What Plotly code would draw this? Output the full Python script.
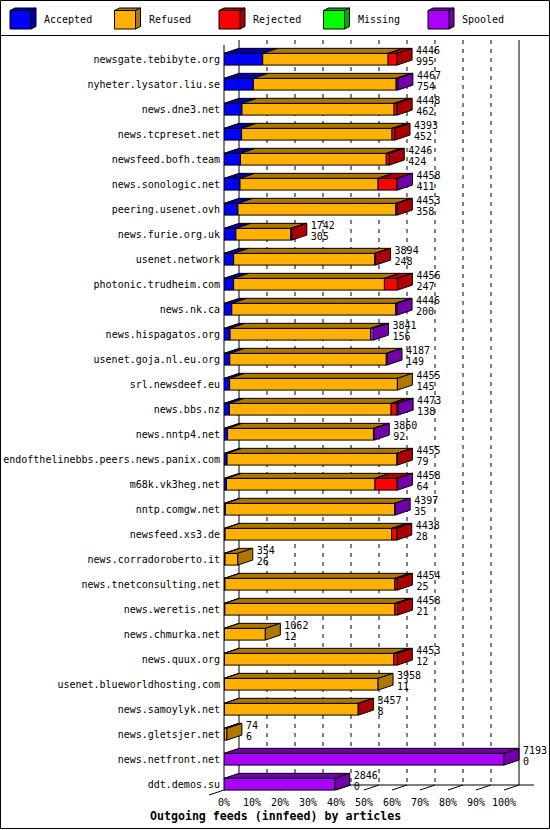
import plotly.graph_objects as go

# ---------------- data ----------------
hosts = [
    "newsgate.tebibyte.org", "nyheter.lysator.liu.se", "news.dne3.net",
    "news.tcpreset.net", "newsfeed.bofh.team", "news.sonologic.net",
    "peering.usenet.ovh", "news.furie.org.uk", "usenet.network",
    "photonic.trudheim.com", "news.nk.ca", "news.hispagatos.org",
    "usenet.goja.nl.eu.org", "srl.newsdeef.eu", "news.bbs.nz",
    "news.nntp4.net", "endofthelinebbs.peers.news.panix.com", "m68k.vk3heg.net",
    "nntp.comgw.net", "newsfeed.xs3.de", "news.corradoroberto.it",
    "news.tnetconsulting.net", "news.weretis.net", "news.chmurka.net",
    "news.quux.org", "usenet.blueworldhosting.com", "news.samoylyk.net",
    "news.gletsjer.net", "news.netfront.net", "ddt.demos.su",
]
total = [4446, 4467, 4448, 4393, 4246, 4458, 4453, 1742, 3894, 4456,
         4446, 3841, 4187, 4455, 4473, 3860, 4455, 4458, 4397, 4438,
         354, 4454, 4458, 1062, 4453, 3958, 3457, 74, 7193, 2846]
accepted = [995, 754, 462, 452, 424, 411, 358, 305, 248, 247,
            200, 156, 149, 145, 138, 92, 79, 64, 35, 28,
            26, 25, 21, 12, 12, 11, 8, 6, 0, 0]
refused = [3221, 3668, 3909, 3864, 3745, 3547, 4055, 1412, 3626, 3874,
           4206, 3608, 4021, 4310, 4155, 3748, 4366, 3816, 4352, 4280,
           328, 4364, 4367, 1050, 4351, 3947, 3439, 68, 0, 0]
rejected = [230, 0, 77, 77, 77, 490, 40, 25, 20, 335,
            0, 0, 0, 0, 146, 0, 10, 568, 0, 130,
            0, 65, 70, 0, 90, 0, 10, 0, 0, 0]
missing = [0, 0, 0, 0, 0, 0, 0, 0, 0, 0,
           0, 0, 0, 0, 0, 0, 0, 0, 0, 0,
           0, 0, 0, 0, 0, 0, 0, 0, 0, 0]
spooled = [0, 45, 0, 0, 0, 10, 0, 0, 0, 0,
           40, 77, 17, 0, 34, 20, 0, 10, 10, 0,
           0, 0, 0, 0, 0, 0, 0, 0, 7193, 2846]

series_names = ["Accepted", "Refused", "Rejected", "Missing", "Spooled"]
series_values = [accepted, refused, rejected, missing, spooled]
x_ticks = [0, 10, 20, 30, 40, 50, 60, 70, 80, 90, 100]
x_ticktext = ["0%", "10%", "20%", "30%", "40%", "50%", "60%", "70%", "80%", "90%", "100%"]
title_text = "Outgoing feeds (innfeed) by articles"

# ---------------- style ----------------
front_colors = ["#0000FF", "#FFB000", "#FF0000", "#00FF00", "#AA00FF"]
dark_colors = ["#0000AA", "#AD7700", "#AA0000", "#00AA00", "#7100AA"]
FONT = "DejaVu Sans Mono"

W, HF = 550, 830
PLOT_L, PLOT_R, PLOT_T, PLOT_B = 224.0, 548.0, 35.0, 795.0
PX_PER_PCT = 2.8
ROW0_PX, ROW_PX = 59.2, 25.0
DX = 15.0 / PX_PER_PCT       # depth offset in % units
DY = 5.0 / ROW_PX            # depth offset in row units
BH = 0.47                    # bar thickness (rows)
TXT_GAP = 4.0 / PX_PER_PCT   # gap between bar and value labels
Y_BACK_TOP = (40.0 - ROW0_PX) / ROW_PX
Y_BACK_FLOOR = (785.0 - ROW0_PX) / ROW_PX


def pxx(v):
    return (PLOT_L + v * PX_PER_PCT) / W


def pxy(r):
    return 1 - (ROW0_PX + r * ROW_PX) / HF


def ppx(x):
    return x / W


def ppy(y):
    return 1 - y / HF


n = len(hosts)
vmax = max(total)
rows = list(range(n))
pct = [[v / vmax * 100 for v in s] for s in series_values]

fig = go.Figure()

# front faces (stacked with explicit bases)
starts = [[0.0] * n for _ in series_values]
cum = [0.0] * n
for k, s in enumerate(pct):
    for i in range(n):
        starts[k][i] = cum[i]
        cum[i] += s[i]
for k, s in enumerate(pct):
    fig.add_trace(go.Bar(
        orientation="h", y=rows,
        x=[v if v > 0 else None for v in s], base=starts[k],
        width=BH, name=series_names[k],
        marker=dict(color=front_colors[k], line=dict(color="black", width=1)),
        showlegend=False, hoverinfo="skip",
    ))

# top faces
for k, s in enumerate(pct):
    xs, ys = [], []
    for i in range(n):
        if s[i] <= 0:
            continue
        x0, x1 = starts[k][i], starts[k][i] + s[i]
        yt = i - BH / 2
        xs += [x0, x1, x1 + DX, x0 + DX, x0, None]
        ys += [yt, yt, yt - DY, yt - DY, yt, None]
    if xs:
        fig.add_trace(go.Scatter(x=xs, y=ys, mode="lines", fill="toself",
                                 fillcolor=dark_colors[k],
                                 line=dict(color="black", width=1),
                                 showlegend=False, hoverinfo="skip"))

# side faces (last non-zero segment)
for k in range(len(pct)):
    xs, ys = [], []
    for i in range(n):
        last = max(j for j in range(len(pct)) if pct[j][i] > 0)
        if last != k:
            continue
        xe = cum[i]
        yt, yb = i - BH / 2, i + BH / 2
        xs += [xe, xe + DX, xe + DX, xe, xe, None]
        ys += [yt, yt - DY, yb - DY, yb, yt, None]
    if xs:
        fig.add_trace(go.Scatter(x=xs, y=ys, mode="lines", fill="toself",
                                 fillcolor=dark_colors[k],
                                 line=dict(color="black", width=1),
                                 showlegend=False, hoverinfo="skip"))

# value labels
fig.add_trace(go.Scatter(
    x=[c + DX + TXT_GAP for c in cum], y=[i - 0.30 for i in rows], mode="text",
    text=[str(t) for t in total], textposition="middle right",
    textfont=dict(family=FONT, size=10, color="black"),
    cliponaxis=False, showlegend=False, hoverinfo="skip"))
fig.add_trace(go.Scatter(
    x=[c + DX + TXT_GAP for c in cum], y=[i + 0.15 for i in rows], mode="text",
    text=[str(a) for a in accepted], textposition="middle right",
    textfont=dict(family=FONT, size=10, color="black"),
    cliponaxis=False, showlegend=False, hoverinfo="skip"))

shapes = []
line_blk = dict(color="black", width=1)
# back grid lines
for t in x_ticks:
    solid = t in (0, 100)
    shapes.append(dict(type="line", xref="paper", yref="paper", layer="below",
                       x0=pxx(t + DX), x1=pxx(t + DX), y0=pxy(Y_BACK_TOP), y1=pxy(Y_BACK_FLOOR),
                       line=dict(color="black", width=1, dash="solid" if solid else "4px,5px")))
# floor back line
shapes.append(dict(type="line", xref="paper", yref="paper", layer="below",
                   x0=pxx(DX), x1=pxx(100 + 2 * DX), y0=pxy(Y_BACK_FLOOR), y1=pxy(Y_BACK_FLOOR),
                   line=line_blk))
# tick marks (depth diagonals)
for t in x_ticks:
    shapes.append(dict(type="line", xref="paper", yref="paper", layer="below",
                       x0=pxx(t), x1=pxx(t + DX), y0=pxy(Y_BACK_FLOOR + DY), y1=pxy(Y_BACK_FLOOR),
                       line=line_blk))
shapes.append(dict(type="line", xref="paper", yref="paper", layer="below",
                   x0=pxx(-DX), x1=pxx(0), y0=pxy(Y_BACK_FLOOR + 2 * DY), y1=pxy(Y_BACK_FLOOR + DY),
                   line=line_blk))
# front left axis
shapes.append(dict(type="line", xref="paper", yref="paper", layer="above",
                   x0=pxx(0), x1=pxx(0), y0=pxy(Y_BACK_TOP + DY), y1=pxy(Y_BACK_FLOOR + DY),
                   line=line_blk))
# legend separator and outer frame
shapes.append(dict(type="line", xref="paper", yref="paper", x0=0, x1=1, y0=ppy(35.5), y1=ppy(35.5),
                   line=line_blk))
shapes.append(dict(type="rect", xref="paper", yref="paper", x0=ppx(0.5), x1=ppx(549.5),
                   y0=ppy(0.5), y1=ppy(828.5), line=line_blk, fillcolor="rgba(0,0,0,0)"))

# legend cubes
annotations = []
for j, nm in enumerate(series_names):
    cx = 10 + 104.5 * j
    fx0, fx1, fy0, fy1 = cx, cx + 21, 10.5, 29
    ddx, ddy = 5, 2.5
    top = "M{},{} L{},{} L{},{} L{},{} Z".format(
        ppx(fx0), ppy(fy0), ppx(fx1), ppy(fy0), ppx(fx1 + ddx), ppy(fy0 - ddy), ppx(fx0 + ddx), ppy(fy0 - ddy))
    side = "M{},{} L{},{} L{},{} L{},{} Z".format(
        ppx(fx1), ppy(fy0), ppx(fx1 + ddx), ppy(fy0 - ddy), ppx(fx1 + ddx), ppy(fy1 - ddy), ppx(fx1), ppy(fy1))
    shapes.append(dict(type="path", xref="paper", yref="paper", path=top,
                       fillcolor=dark_colors[j], line=line_blk))
    shapes.append(dict(type="path", xref="paper", yref="paper", path=side,
                       fillcolor=dark_colors[j], line=line_blk))
    shapes.append(dict(type="rect", xref="paper", yref="paper", x0=ppx(fx0), x1=ppx(fx1),
                       y0=ppy(fy0), y1=ppy(fy1), fillcolor=front_colors[j], line=line_blk))
    annotations.append(dict(xref="paper", yref="paper", x=ppx(cx + 32), y=ppy(20),
                            xanchor="left", yanchor="middle", showarrow=False, text=nm,
                            font=dict(family=FONT, size=10, color="black")))

annotations.append(dict(xref="paper", yref="paper", x=0.5, y=ppy(816),
                        xanchor="center", yanchor="middle", showarrow=False,
                        text="<b>" + title_text + "</b>",
                        font=dict(family=FONT, size=11.6, color="black")))

fig.update_layout(
    width=W, height=HF, template="none",
    margin=dict(l=0, r=0, t=0, b=0),
    paper_bgcolor="white", plot_bgcolor="rgba(0,0,0,0)",
    barmode="overlay", showlegend=False,
    shapes=shapes, annotations=annotations,
    xaxis=dict(domain=[PLOT_L / W, PLOT_R / W],
               range=[0, (PLOT_R - PLOT_L) / PX_PER_PCT],
               tickvals=x_ticks, ticktext=x_ticktext, showgrid=False, zeroline=False,
               showline=False, ticks="", automargin=False, fixedrange=True,
               tickfont=dict(family=FONT, size=10, color="black")),
    yaxis=dict(domain=[1 - PLOT_B / HF, 1 - PLOT_T / HF],
               range=[(PLOT_B - ROW0_PX) / ROW_PX, (PLOT_T - ROW0_PX) / ROW_PX],
               tickvals=rows, ticktext=hosts, showgrid=False, zeroline=False,
               showline=False, ticks="", automargin=False, fixedrange=True,
               ticklabelstandoff=3,
               tickfont=dict(family=FONT, size=10, color="black")),
)

fig.write_html("out.html")
